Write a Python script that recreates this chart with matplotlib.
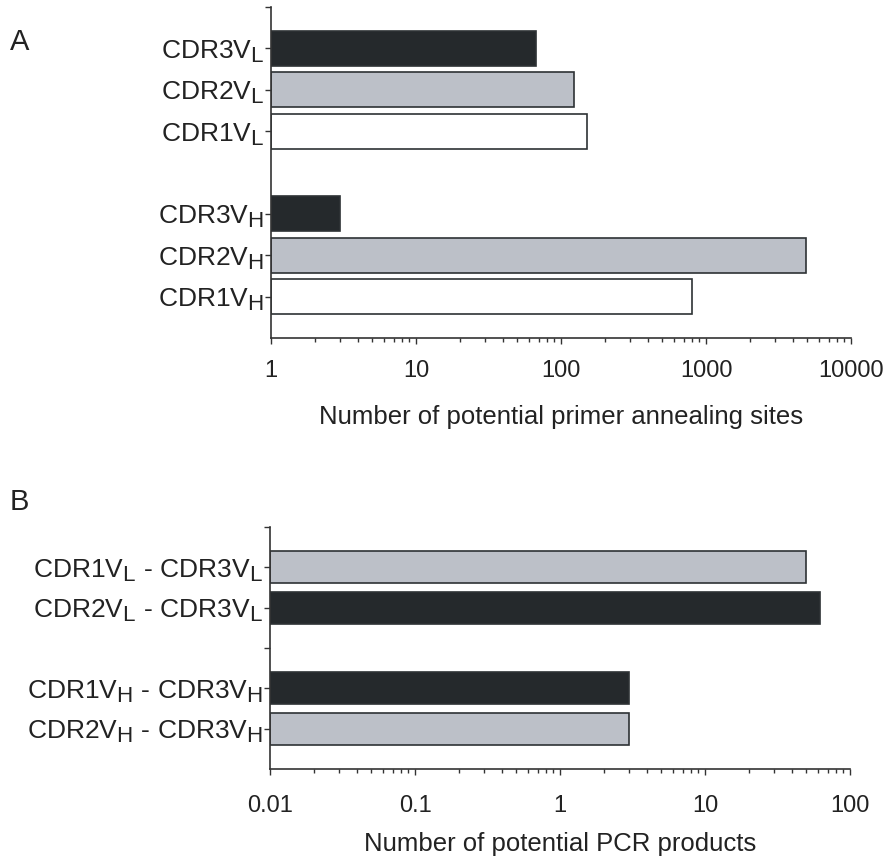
import matplotlib
matplotlib.use("Agg")
import matplotlib.pyplot as plt
from matplotlib.ticker import LogLocator, NullFormatter, FixedLocator, FixedFormatter

# subscripts in the original are nearly full size
try:
    import matplotlib._mathtext as _mt
    _mt.SHRINK_FACTOR = 0.85
except Exception:
    pass

plt.rcParams['font.family'] = ['Liberation Sans', 'DejaVu Sans']
plt.rcParams['mathtext.fontset'] = 'custom'
plt.rcParams['mathtext.rm'] = 'Liberation Sans'

DARK = '#25292c'
GRAY = '#bcc0c8'
WHITE = '#ffffff'
EDGE = '#2e3235'

# panel A: number of potential primer annealing sites (top to bottom)
a_labels = [r'CDR3V$_\mathregular{L}$', r'CDR2V$_\mathregular{L}$', r'CDR1V$_\mathregular{L}$',
            r'CDR3V$_\mathregular{H}$', r'CDR2V$_\mathregular{H}$', r'CDR1V$_\mathregular{H}$']
a_values = [67, 122, 152, 3.0, 4880, 795]
a_colors = [DARK, GRAY, WHITE, DARK, GRAY, WHITE]
a_pos = [7, 6, 5, 3, 2, 1]
a_ticks = ['1', '10', '100', '1000', '10000']

# panel B: number of potential PCR products
b_labels = [r'CDR1V$_\mathregular{L}$ - CDR3V$_\mathregular{L}$',
            r'CDR2V$_\mathregular{L}$ - CDR3V$_\mathregular{L}$',
            r'CDR1V$_\mathregular{H}$ - CDR3V$_\mathregular{H}$',
            r'CDR2V$_\mathregular{H}$ - CDR3V$_\mathregular{H}$']
b_values = [50, 62, 3.0, 3.0]
b_colors = [GRAY, DARK, DARK, GRAY]
b_pos = [5, 4, 2, 1]
b_ticks = ['0.01', '0.1', '1', '10', '100']

FS = 17
YFS = 19
LFS = 18.5
TXT = '#222222'

fig = plt.figure(figsize=(8.89, 8.64), dpi=100)
W, H = 889, 864


def style(ax, xmin, xmax, ymax, ticks, tick_labels, yticks, ylabels, xpad):
    ax.set_xscale('log')
    ax.set_xlim(xmin, xmax)
    ax.set_ylim(0, ymax)
    for s in ['top', 'right']:
        ax.spines[s].set_visible(False)
    for s in ['left', 'bottom']:
        ax.spines[s].set_color('#333333')
        ax.spines[s].set_linewidth(1.2)
    ax.xaxis.set_major_locator(FixedLocator(ticks))
    ax.xaxis.set_major_formatter(FixedFormatter(tick_labels))
    ax.xaxis.set_minor_locator(LogLocator(base=10, subs=range(2, 10)))
    ax.xaxis.set_minor_formatter(NullFormatter())
    ax.tick_params(axis='x', which='major', length=4, width=1, color='#333333',
                   labelsize=FS, pad=xpad, labelcolor=TXT)
    ax.tick_params(axis='x', which='minor', length=3, width=1, color='#333333')
    ax.set_yticks(yticks)
    ax.set_yticklabels(ylabels)
    ax.tick_params(axis='y', length=4, width=1, color='#333333', labelsize=YFS, pad=1,
                   labelcolor=TXT)


# panel A
axA = fig.add_axes([271 / W, 1 - 338 / H, 580 / W, 331 / H])
axA.barh(a_pos, [v - 1 for v in a_values], left=1, height=0.85, color=a_colors,
         edgecolor=EDGE, linewidth=1.2)
style(axA, 1, 10000, 8, [1, 10, 100, 1000, 10000], a_ticks,
      a_pos + [8], a_labels + [''], 12)
axA.set_xlabel('Number of potential primer annealing sites', fontsize=LFS, color=TXT)
axA.xaxis.label.set_va('top')
axA.xaxis.set_label_coords(0.5, -(405 - 338) / 331)

# panel B
axB = fig.add_axes([270 / W, 1 - 769 / H, 580 / W, 242 / H])
axB.barh(b_pos, [v - 0.01 for v in b_values], left=0.01, height=0.8, color=b_colors,
         edgecolor=EDGE, linewidth=1.2)
style(axB, 0.01, 100, 6, [0.01, 0.1, 1, 10, 100], b_ticks,
      b_pos + [3, 6], b_labels + ['', ''], 15)
axB.set_xlabel('Number of potential PCR products', fontsize=LFS, color=TXT)
axB.xaxis.label.set_va('top')
axB.xaxis.set_label_coords(0.5, -(832 - 769) / 242)

fig.text(10 / W, 1 - 50 / H, 'A', fontsize=21, color=TXT, va='baseline')
fig.text(10 / W, 1 - 510 / H, 'B', fontsize=21, color=TXT, va='baseline')

fig.savefig('out.png', dpi=100)
